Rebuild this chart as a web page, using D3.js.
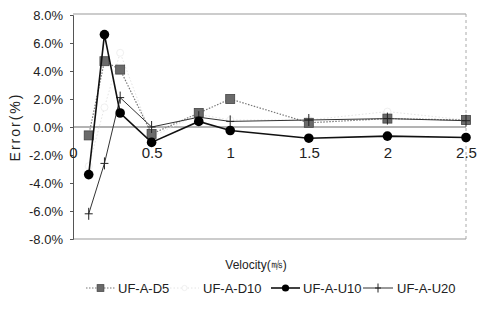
<!DOCTYPE html>
<html>
<head>
<meta charset="utf-8">
<script src="https://cdn.jsdelivr.net/npm/d3@7"></script>
<style>
  html, body { margin: 0; padding: 0; background: #fff; }
  svg { display: block; font-family: "Liberation Sans", Arial, sans-serif; }
</style>
</head>
<body>
<svg id="chart" width="477" height="320"></svg>
<script>
// Velocity (m/s) at which each error was measured
const velocities = [0.1, 0.2, 0.3, 0.5, 0.8, 1.0, 1.5, 2.0, 2.5];

// Relative error (%) per configuration
const errD5  = [-0.6, 4.7, 4.1, -0.5, 1.0, 2.0, 0.3, 0.6, 0.5];
const errD10 = [-2.8, 1.4, 5.3, -0.7, 0.9, 0.5, 0.5, 1.1, 0.5];
const errU10 = [-3.4, 6.6, 1.0, -1.1, 0.4, -0.25, -0.8, -0.65, -0.75];
const errU20 = [-6.2, -2.6, 2.1, 0.0, 0.7, 0.4, 0.5, 0.6, 0.45];

const seriesNames = ["UF-A-D5", "UF-A-D10", "UF-A-U10", "UF-A-U20"];

const yTicks = [8, 6, 4, 2, 0, -2, -4, -6, -8];
const xTicks = [0, 0.5, 1, 1.5, 2, 2.5];
const xTickLabels = ["0", "0.5", "1", "1.5", "2", "2.5"];

const svg = d3.select("#chart");
const plot = { left: 73, right: 466, top: 15, bottom: 239 };

const x = d3.scaleLinear().domain([0, 2.5]).range([plot.left, plot.right]);
const y = d3.scaleLinear().domain([-8, 8]).range([plot.bottom, plot.top]);

// plot frame
svg.append("line").attr("x1", plot.left).attr("x2", plot.right)
  .attr("y1", plot.top - 1).attr("y2", plot.top - 1)
  .attr("stroke", "#999").attr("stroke-width", 1);
svg.append("line").attr("x1", plot.right).attr("x2", plot.right)
  .attr("y1", plot.top - 1).attr("y2", plot.bottom)
  .attr("stroke", "#aaa").attr("stroke-width", 1).attr("stroke-dasharray", "3,3");
svg.append("line").attr("x1", plot.left).attr("x2", plot.right)
  .attr("y1", plot.bottom).attr("y2", plot.bottom)
  .attr("stroke", "#999").attr("stroke-width", 1);

// zero reference line
svg.append("line").attr("x1", plot.left).attr("x2", plot.right)
  .attr("y1", y(0)).attr("y2", y(0))
  .attr("stroke", "#9a9a9a").attr("stroke-width", 1.5);

// y axis
const yAxis = svg.append("g")
  .attr("transform", `translate(${plot.left},0)`)
  .call(d3.axisLeft(y).tickValues(yTicks).tickSize(3).tickPadding(7)
    .tickFormat(d => d.toFixed(1) + "%"));
yAxis.select(".domain").attr("stroke", "#555");
yAxis.selectAll(".tick line").attr("stroke", "#555");
yAxis.selectAll("text").attr("font-size", 13).attr("fill", "#222")
  .attr("font-family", "'Liberation Sans', Arial, sans-serif");

// x tick labels sit below the zero line
const xAxis = svg.append("g")
  .attr("transform", `translate(0,${y(0) + 20})`)
  .call(d3.axisBottom(x).tickValues(xTicks).tickSize(0).tickPadding(0)
    .tickFormat((d, i) => xTickLabels[i]));
xAxis.select(".domain").remove();
xAxis.selectAll("text").attr("font-size", 15).attr("fill", "#222")
  .attr("font-family", "'Liberation Sans', Arial, sans-serif");

// axis titles
svg.append("text")
  .attr("transform", `translate(20,${y(0)}) rotate(-90)`)
  .attr("text-anchor", "middle")
  .attr("font-size", 14).attr("letter-spacing", 2).attr("fill", "#222")
  .text("Error(%)");
svg.append("text")
  .attr("x", 256).attr("y", 269)
  .attr("text-anchor", "middle")
  .attr("font-size", 12).attr("fill", "#222")
  .text("Velocity(㎧)");

const line = d3.line().x((d, i) => x(velocities[i])).y(d => y(d));

const styles = [
  { data: errD5,  stroke: "#777", width: 1.2, dash: "1.5,1.5", marker: "square" },
  { data: errD10, stroke: "#e4e4e4", width: 1, dash: "1.5,2", marker: "ring" },
  { data: errU10, stroke: "#111", width: 1.6, dash: null, marker: "circle" },
  { data: errU20, stroke: "#333", width: 1, dash: null, marker: "plus" }
];

function drawMarker(g, kind, cx, cy, k) {
  if (kind === "square") {
    const h = 4.5 * k;
    g.append("rect").attr("x", cx - h).attr("y", cy - h)
      .attr("width", 2 * h).attr("height", 2 * h)
      .attr("fill", "#6a6a6a").attr("stroke", "#444").attr("stroke-width", 0.8);
  } else if (kind === "circle") {
    g.append("circle").attr("cx", cx).attr("cy", cy).attr("r", 4.8 * k).attr("fill", "#000");
  } else if (kind === "plus") {
    g.append("path")
      .attr("d", `M${cx - 4 * k},${cy}H${cx + 4 * k}M${cx},${cy - 6 * k}V${cy + 6 * k}`)
      .attr("stroke", "#222").attr("stroke-width", 1).attr("fill", "none");
  } else if (kind === "ring") {
    g.append("circle").attr("cx", cx).attr("cy", cy).attr("r", 3.5 * k)
      .attr("fill", "#fff").attr("stroke", "#f0f0f0").attr("stroke-width", 1);
  }
}

// series lines and markers, light ones first
[1, 0, 3, 2].forEach(si => {
  const s = styles[si];
  const g = svg.append("g");
  g.append("path").datum(s.data).attr("d", line)
    .attr("fill", "none").attr("stroke", s.stroke)
    .attr("stroke-width", s.width)
    .attr("stroke-dasharray", s.dash);
  s.data.forEach((v, i) => drawMarker(g, s.marker, x(velocities[i]), y(v), 1));
});

// legend
const legendY = 288;
const legendItems = [
  { x0: 86, x1: 115, tx: 118 },
  { x0: 170, x1: 199, tx: 203 },
  { x0: 271, x1: 300, tx: 303 },
  { x0: 363, x1: 393, tx: 397 }
];
legendItems.forEach((it, i) => {
  const s = styles[i];
  const g = svg.append("g");
  g.append("line").attr("x1", it.x0).attr("x2", it.x1)
    .attr("y1", legendY).attr("y2", legendY)
    .attr("stroke", s.stroke).attr("stroke-width", s.width)
    .attr("stroke-dasharray", s.dash);
  drawMarker(g, s.marker, (it.x0 + it.x1) / 2, legendY, 0.75);
  g.append("text").attr("x", it.tx).attr("y", legendY + 5)
    .attr("font-size", 13).attr("fill", "#222").text(seriesNames[i]);
});
</script>
</body>
</html>
